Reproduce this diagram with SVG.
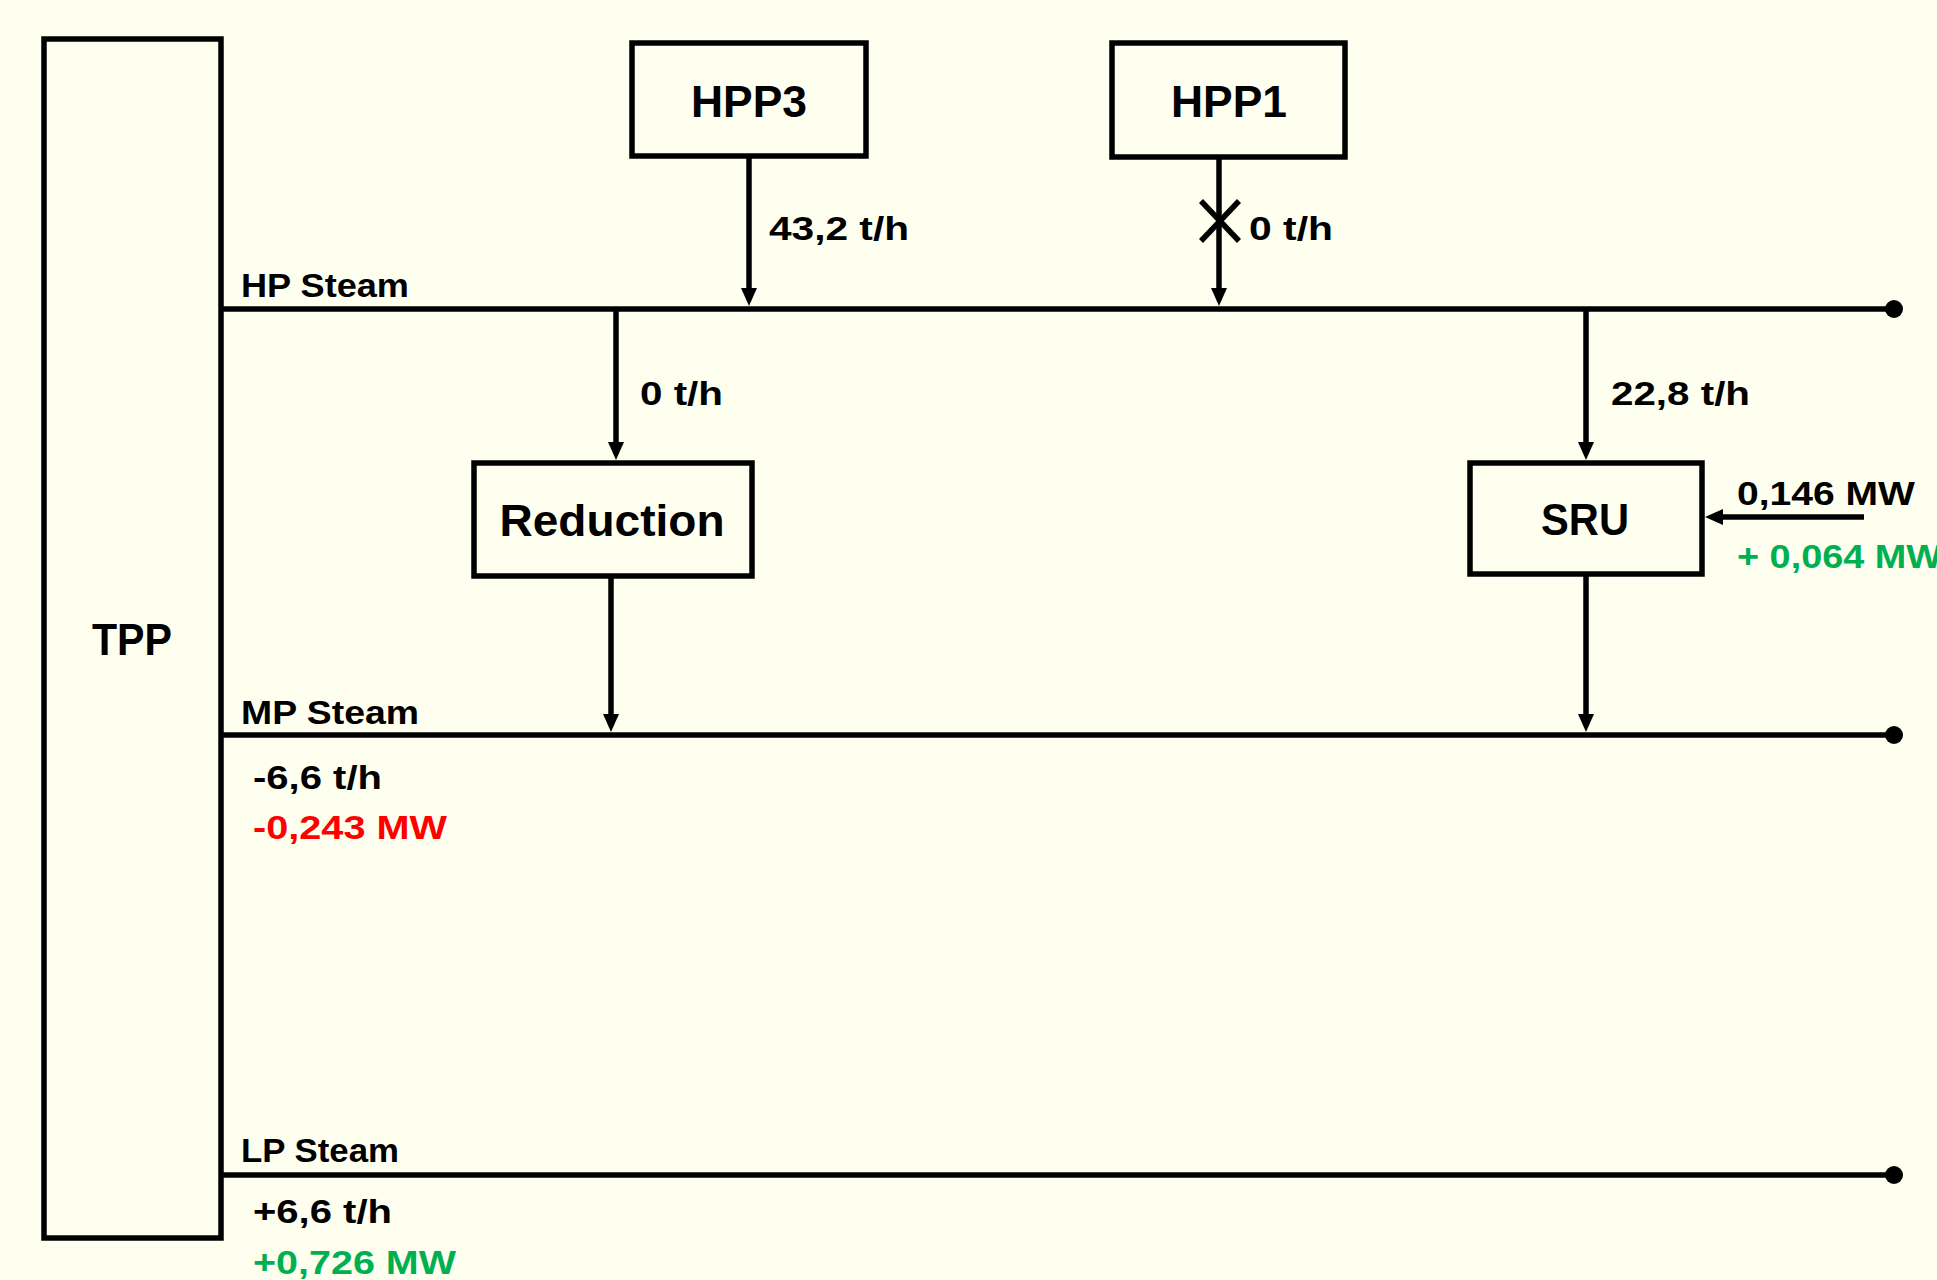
<svg xmlns="http://www.w3.org/2000/svg" width="1937" height="1280" viewBox="0 0 1937 1280">
<style>
.bg{fill:#FFFFF0}
.box{fill:none;stroke:#000;stroke-width:5.5}
.ln{fill:none;stroke:#000;stroke-width:5.5}
.arr{fill:none;stroke:#000;stroke-width:5.5;marker-end:url(#ah)}
.nl{font-family:"Liberation Sans",Arial,sans-serif;font-weight:bold;font-size:45px;fill:#000;text-anchor:middle}
.lb{font-family:"Liberation Sans",Arial,sans-serif;font-weight:bold;font-size:34px;fill:#000}
.g{fill:#00B050}
.r{fill:#FF0000}
</style>
<defs>
<marker id="ah" markerUnits="userSpaceOnUse" viewBox="0 0 18 16" refX="8" refY="8" markerWidth="18" markerHeight="16" orient="auto">
<path d="M0,0 L18,8 L0,16 z" fill="#000"/>
</marker>
</defs>
<rect class="bg" x="0" y="0" width="1937" height="1280"/>

<g id="TPP">
<rect class="box" x="44" y="39" width="177" height="1199"/>
<text class="nl" x="132" y="655" textLength="80" lengthAdjust="spacingAndGlyphs">TPP</text>
</g>
<g id="HPP3">
<rect class="box" x="632" y="43" width="234" height="113"/>
<text class="nl" x="749" y="117" textLength="116" lengthAdjust="spacingAndGlyphs">HPP3</text>
</g>
<g id="HPP1">
<rect class="box" x="1112" y="43" width="233" height="114"/>
<text class="nl" x="1229" y="117" textLength="116" lengthAdjust="spacingAndGlyphs">HPP1</text>
</g>
<g id="Reduction">
<rect class="box" x="474" y="463" width="278" height="113"/>
<text class="nl" x="612" y="536" textLength="225" lengthAdjust="spacingAndGlyphs">Reduction</text>
</g>
<g id="SRU">
<rect class="box" x="1470" y="463" width="232" height="111"/>
<text class="nl" x="1585" y="535" textLength="88" lengthAdjust="spacingAndGlyphs">SRU</text>
</g>

<g id="steam-lines">
<line class="ln" x1="221" y1="309" x2="1894" y2="309"/>
<circle cx="1894" cy="309" r="9" fill="#000"/>
<line class="ln" x1="221" y1="735" x2="1894" y2="735"/>
<circle cx="1894" cy="735" r="9" fill="#000"/>
<line class="ln" x1="221" y1="1175" x2="1894" y2="1175"/>
<circle cx="1894" cy="1175" r="9" fill="#000"/>
<text class="lb" x="241" y="297" textLength="168" lengthAdjust="spacingAndGlyphs">HP Steam</text>
<text class="lb" x="241" y="724" textLength="178" lengthAdjust="spacingAndGlyphs">MP Steam</text>
<text class="lb" x="241" y="1162" textLength="158" lengthAdjust="spacingAndGlyphs">LP Steam</text>
<text class="lb" x="253" y="789" textLength="129" lengthAdjust="spacingAndGlyphs">-6,6 t/h</text>
<text class="lb r" x="253" y="839" textLength="194" lengthAdjust="spacingAndGlyphs">-0,243 MW</text>
<text class="lb" x="253" y="1223" textLength="139" lengthAdjust="spacingAndGlyphs">+6,6 t/h</text>
<text class="lb g" x="253" y="1274" textLength="203" lengthAdjust="spacingAndGlyphs">+0,726 MW</text>
</g>

<g id="connectors">
<line class="arr" x1="749" y1="156" x2="749" y2="296"/>
<line class="arr" x1="1219" y1="157" x2="1219" y2="296"/>
<line class="arr" x1="616" y1="309" x2="616" y2="450"/>
<line class="arr" x1="1586" y1="309" x2="1586" y2="450"/>
<line class="arr" x1="611" y1="576" x2="611" y2="722"/>
<line class="arr" x1="1586" y1="574" x2="1586" y2="722"/>
<line class="arr" x1="1864" y1="517" x2="1715" y2="517"/>
<line class="ln" x1="1201" y1="201" x2="1239" y2="241"/>
<line class="ln" x1="1239" y1="201" x2="1201" y2="241"/>
<text class="lb" x="769" y="240" textLength="140" lengthAdjust="spacingAndGlyphs">43,2 t/h</text>
<text class="lb" x="1249" y="240" textLength="84" lengthAdjust="spacingAndGlyphs">0 t/h</text>
<text class="lb" x="640" y="405" textLength="83" lengthAdjust="spacingAndGlyphs">0 t/h</text>
<text class="lb" x="1611" y="405" textLength="139" lengthAdjust="spacingAndGlyphs">22,8 t/h</text>
<text class="lb" x="1737" y="505" textLength="178" lengthAdjust="spacingAndGlyphs">0,146 MW</text>
<text class="lb g" x="1737" y="568" textLength="205" lengthAdjust="spacingAndGlyphs">+ 0,064 MW</text>
</g>
</svg>
